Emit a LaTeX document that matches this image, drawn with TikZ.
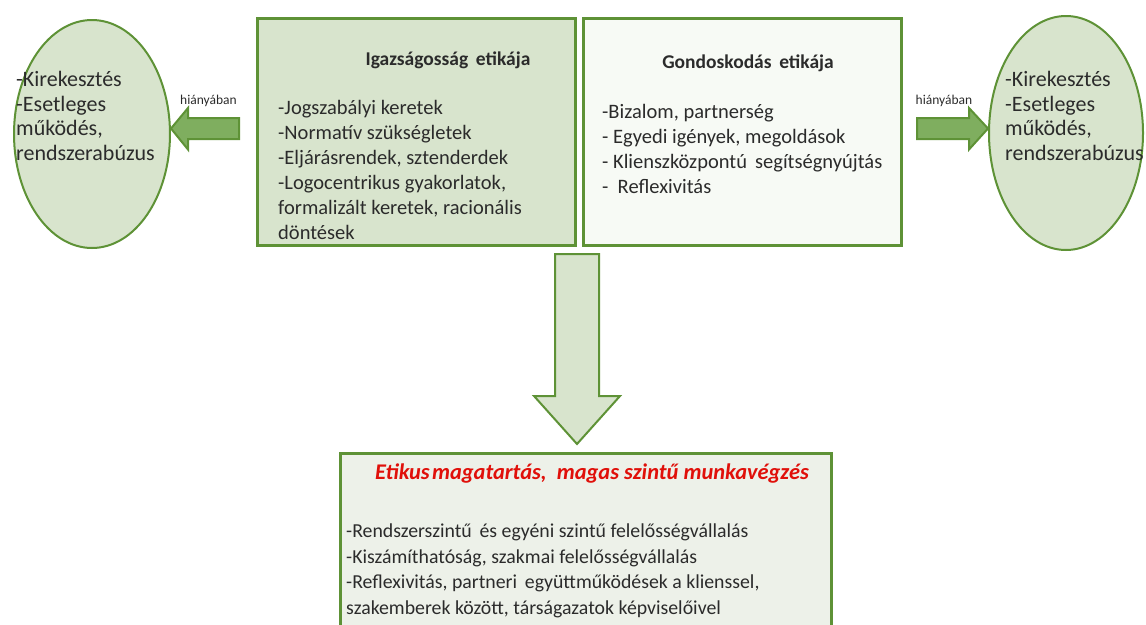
\documentclass[tikz,border=0pt]{standalone}
\usepackage{fontspec}
\setmainfont{Carlito}
\usetikzlibrary{shapes.geometric,positioning}

\definecolor{leafdark}{HTML}{5E9236}
\definecolor{leafmid}{HTML}{7FAE5F}
\definecolor{leaflight}{HTML}{D8E4CD}
\definecolor{leafpale}{HTML}{F7FAF5}
\definecolor{leafgrey}{HTML}{EDF1E9}
\definecolor{etikred}{HTML}{E0100A}
\definecolor{inkgrey}{HTML}{2B2B2B}

\begin{document}
\begin{tikzpicture}[x=1pt, y=-1pt,
  box/.style={draw=leafdark, line width=3pt, rectangle, inner sep=0pt},
  oval/.style={draw=leafdark, line width=2pt, ellipse, fill=leaflight, inner sep=0pt},
  fat/.style={draw=leafdark, line width=2pt, line join=miter},
  txt/.style={anchor=base west, align=left, inner sep=0pt, text=inkgrey,
              font=\fontsize{20.5}{25}\selectfont},
  head/.style={anchor=base, inner sep=0pt, text=inkgrey,
               font=\fontsize{19.5}{24}\selectfont\bfseries},
  tag/.style={anchor=base, inner sep=0pt, text=inkgrey,
              font=\fontsize{13.5}{16}\selectfont}]
  \useasboundingbox (0,0) rectangle (1146,624);

  \node[box, fill=leaflight, minimum width=318pt, minimum height=227pt] (just) at (416,131.5) {};
  \node[box, fill=leafpale,  minimum width=318pt, minimum height=227pt] (care) at (742,131.5) {};
  \node[box, fill=leafgrey,  minimum width=491pt, minimum height=200pt] (good) at (585.5,553) {};
  \node[oval, minimum width=156pt, minimum height=228pt] (lfail) at (92,134) {};
  \node[oval, minimum width=154pt, minimum height=234pt] (rfail) at (1066,133) {};

  \node[head] (justh) at (448,65) {Igazságosság\, etikája};
  \node[txt]  (justt) at (278,239) {-Jogszabályi keretek\\-Normatív szükségletek\\-Eljárásrendek, sztenderdek\\-Logocentrikus gyakorlatok,\\formalizált keretek, racionális\\döntések};
  \node[head] (careh) at (748,68) {Gondoskodás\, etikája};
  \node[txt]  (caret) at (602,193) {-Bizalom, partnerség\\- Egyedi igények, megoldások\\- Klienszközpontú\, segítségnyújtás\\-\ \ Reflexivitás};
  \node[head, text=etikred, font=\fontsize{22.4}{26}\selectfont\bfseries\itshape] (goodh) at (592,479)
    {Etikus\hspace{0.1em}magatartás,\ \ magas szintű munkavégzés};
  \node[txt, font=\fontsize{19.8}{25.5}\selectfont] (goodt) at (346,614) {-Rendszerszintű\, és egyéni szintű felelősségvállalás\\-Kiszámíthatóság, szakmai felelősségvállalás\\-Reflexivitás, partneri\, együttműködések a klienssel,\\szakemberek között, társágazatok képviselőivel};
  \node[txt, font=\fontsize{22}{24.5}\selectfont] (lfailt) at (16,160) {-Kirekesztés\\-Esetleges\\működés,\\rendszerabúzus};
  \node[txt, font=\fontsize{22}{24.5}\selectfont] (rfailt) at (1005,160) {-Kirekesztés\\-Esetleges\\működés,\\rendszerabúzus};

  \node[tag] (ltag) at (208.5,104) {hiányában};
  \node[tag] (rtag) at (944,104) {hiányában};

  \coordinate (ltip) at (lfail.east |- 0,128.5);
  \coordinate (rtip) at (rfail.west |- 0,128.5);
  \coordinate (dtip) at (577,444);

  \draw[fat, fill=leafmid] (ltip) -- ++(17,-20.5) -- ++(0,10) -- ++(51,0) -- ++(0,21)
    -- ++(-51,0) -- ++(0,10.5) -- cycle;
  \draw[fat, fill=leafmid] (rtip) -- ++(-19,-20.5) -- ++(0,10) -- ++(-52,0) -- ++(0,21)
    -- ++(52,0) -- ++(0,10.5) -- cycle;
  \draw[fat, fill=leaflight] (dtip) -- ++(-43,-48) -- ++(21,0) -- ++(0,-142) -- ++(44,0)
    -- ++(0,142) -- ++(21,0) -- cycle;
\end{tikzpicture}
\end{document}
